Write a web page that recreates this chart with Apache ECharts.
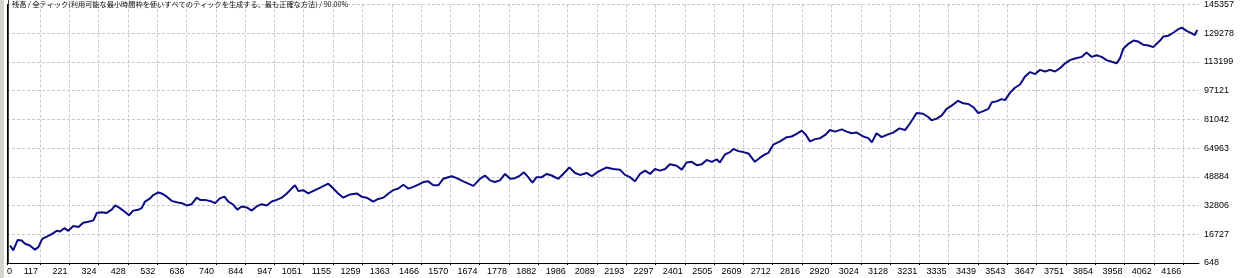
<!DOCTYPE html>
<html>
<head>
<meta charset="utf-8">
<script src="https://cdn.jsdelivr.net/npm/echarts@6/dist/echarts.min.js"></script>
<style>
html,body{margin:0;padding:0;background:#fff;}
#chart{width:1240px;height:278px;}
</style>
</head>
<body>
<div id="chart"></div>
<script>
// Trade numbers (x)
const trades = [11,22,38,52,64,81,99,111,125,141,158,176,188,203,217,235,253,270,288,306,318,335,353,371,383,400,418,432,447,465,477,489,507,518,536,548,566,583,601,619,637,654,672,684,701,725,737,754,770,784,802,816,831,849,867,884,902,920,938,955,973,991,1008,1020,1032,1049,
1067,1091,1115,1138,1156,1173,1191,1215,1239,1256,1274,1297,1315,1333,1351,1368,1386,1404,1421,1439,1457,1475,1492,1510,1528,1545,1575,1593,1616,1634,1652,1675,1693,1711,1728,1746,1764,1782,1799,1817,1831,1846,1861,1876,1894,1912,1929,1953,1970,1992,2012,2030,2053,2071,2094,
2124,2147,2171,2189,2207,2224,2242,2260,2278,2295,2313,2331,2348,2372,2390,2407,2425,2443,2461,2478,2496,2514,2525,2543,2561,2573,2590,2608,2626,2649,2667,2685,2697,2714,2738,2762,2779,2797,2815,2830,2844,2862,2880,2898,2915,2933,2957,2974,2992,3010,3033,3051,3063,3080,3098,3116,3139,3161,
3181,3198,3222,3245,3263,3275,3293,3311,3328,3346,3369,3387,3405,3423,3440,3458,3476,3488,3505,3523,3535,3553,3570,3588,3606,3624,3641,3659,3677,3694,3712,3730,3748,3765,3783,3806,3824,3842,3859,3877,3895,3913,3930,3942,3954,3972,3990,4007,4025,4043,4060,4072,4084,4096,4114,4132,4149,4161,4178,4195,4207,4216];
// Balance values
const balance = [10470,7740,13580,13200,11400,10470,8120,9540,14130,15390,16860,18660,18280,20140,18660,21390,20850,23200,23740,24510,28660,29040,28660,30510,32860,31390,29200,27400,29970,30510,31390,35050,36850,38700,40120,39580,37780,35430,34660,34120,32860,33570,37230,35970,35970,35050,34120,36850,37780,35050,33240,30510,32310,31770,29970,32310,33570,32860,35050,35970,37230,39580,42310,44160,40890,41430,
39580,41430,43240,45040,42310,39580,37230,39030,39580,37780,37230,35050,36520,37230,39580,41430,42310,44490,42310,43240,44490,45970,46350,44160,44160,47770,49240,48150,46350,45040,43780,47770,49620,46900,45970,46900,50500,47770,48150,49620,51430,48700,45590,48700,48700,50500,49620,47770,50500,54160,51050,49950,51050,49240,51810,
54160,53230,52900,49950,48700,46350,50500,52360,50500,53230,52360,53230,55960,55090,52900,56890,57270,55410,55960,58360,57270,58690,56890,61420,62730,64530,63280,62730,61970,57270,59620,61420,62350,66880,68740,71090,71470,72890,74750,72340,68740,70000,70540,72340,75070,74200,75460,74200,73270,73650,71470,70540,68190,73270,71090,72340,73650,76000,
75070,78730,84580,84190,82390,80540,81460,83270,86920,88730,91460,90040,89660,87850,84580,85670,86920,90580,91130,92390,91840,96040,98770,100580,105110,107510,106420,108770,107840,108770,107840,109700,112430,114230,115160,116030,118440,116030,116960,116030,114230,113300,112430,115160,120620,123350,125150,124610,122800,122420,121490,123350,125150,127500,127880,129680,131540,132420,130610,129360,128260,131160];
// Tick labels
const xTicks = [0,117,221,324,428,532,636,740,844,947,1051,1155,1259,1363,1466,1570,1674,1778,1882,1986,2089,2193,2297,2401,2505,2609,2712,2816,2920,3024,3128,3231,3335,3439,3543,3647,3751,3854,3958,4062,4166];
const yTicks = [648,16727,32806,48884,64963,81042,97121,113199,129278,145357];
const titleText = '残高 / 全ティック(利用可能な最小時間枠を使いすべてのティックを生成する、最も正確な方法) / 90.00%';

const seriesData = trades.map((t, i) => [t, balance[i]]);
const font = "'Liberation Sans Narrow', 'Liberation Sans', sans-serif";

const chart = echarts.init(document.getElementById('chart'), null, {renderer: 'canvas'});
chart.setOption({
  animation: false,
  backgroundColor: '#fff',
  grid: {left: 7, right: 41, top: -2, bottom: 15, containLabel: false},
  title: {
    text: titleText, left: 12, top: 1, padding: 0,
    textStyle: {fontSize: 7.2, fontWeight: 'normal', color: '#111', fontFamily: "'Noto Sans CJK JP', sans-serif"}
  },
  xAxis: {
    type: 'value', min: 0, max: 4222,
    axisLine: {show: true, lineStyle: {color: '#000', width: 1}},
    axisTick: {show: true, length: 2, customValues: xTicks, lineStyle: {color: '#000'}},
    axisLabel: {
      customValues: xTicks, color: '#000', fontSize: 9, fontFamily: font,
      align: 'right', margin: 4, padding: [0, 2, 0, 0], alignMinLabel: 'left',
      formatter: v => String(v)
    },
    splitLine: {show: true, lineStyle: {color: '#c8c8c8', type: [3, 2], width: 1}}
  },
  yAxis: {
    type: 'value', position: 'right', min: 648, max: 145357,
    axisLine: {show: true, lineStyle: {color: '#000', width: 1}},
    axisTick: {show: false, customValues: yTicks},
    axisLabel: {
      customValues: yTicks, color: '#000', fontSize: 9, fontFamily: font,
      align: 'left', margin: 5, padding: [3, 0, 0, 0],
      verticalAlignMaxLabel: 'middle',
      formatter: v => String(v)
    },
    splitLine: {show: true, lineStyle: {color: '#c8c8c8', type: [3, 2], width: 1}}
  },
  graphic: [
    {type: 'rect', shape: {x: 0, y: 0, width: 4, height: 278}, style: {fill: '#d6d3ce'}, z: 10},
    {type: 'line', shape: {x1: 8.5, y1: 0, x2: 8.5, y2: 263}, style: {stroke: '#404040', lineWidth: 1}, z: 10}
  ],
  series: [{
    type: 'line', data: seriesData, showSymbol: false, symbol: 'none',
    lineStyle: {color: '#0c0c84', width: 2}, z: 5
  }]
});
</script>
</body>
</html>
